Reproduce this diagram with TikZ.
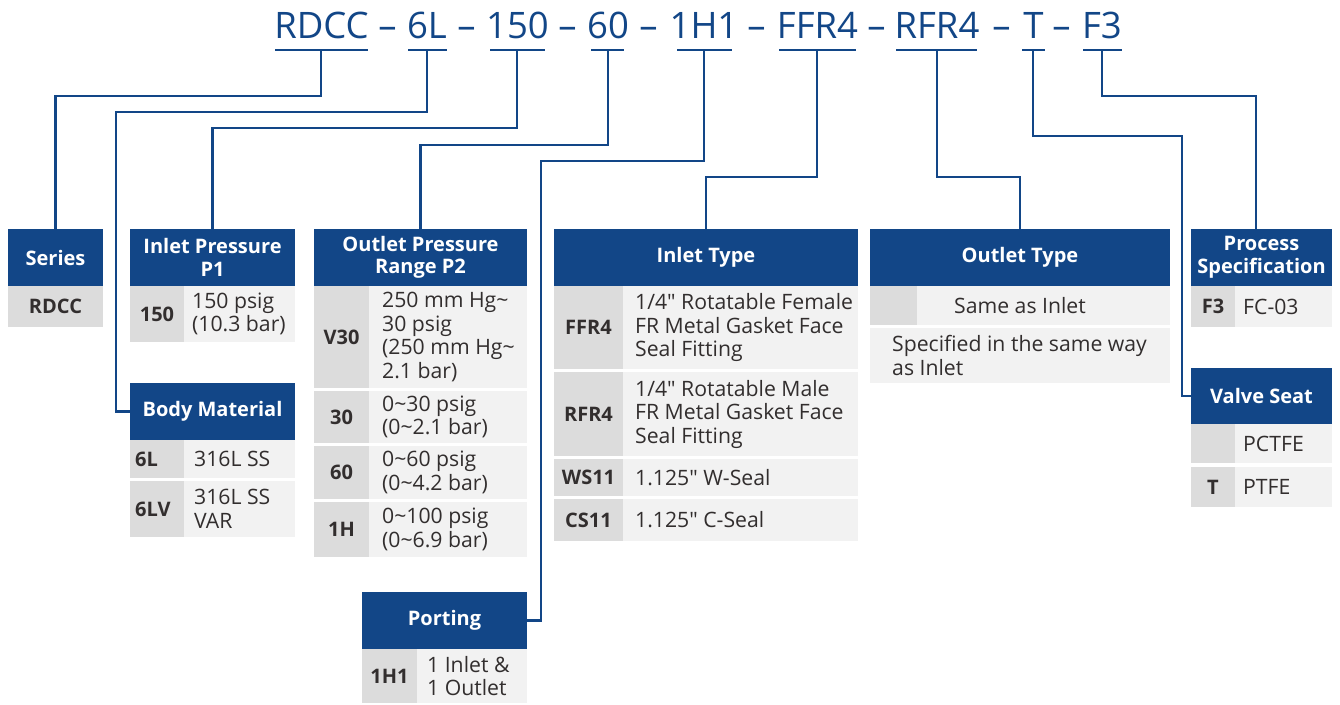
\documentclass[tikz,border=0pt]{standalone}
\usepackage{fontspec}
\setmainfont{Open Sans}[Ligatures=TeXOff]
\definecolor{hblue}{RGB}{18,70,135}
\definecolor{cgray}{RGB}{220,220,220}
\definecolor{dgray}{RGB}{242,242,242}
\definecolor{tdark}{RGB}{50,46,46}
\newcommand\myhdrfont{\bfseries\fontsize{20}{22.5}\selectfont}
\newcommand\mycodefont{\bfseries\fontsize{20}{23.5}\selectfont}
\newcommand\mydescfont{\fontsize{21.2}{23.5}\selectfont}
\newcommand\myttlfont{\fontsize{36.5}{40}\selectfont}
\tikzset{
  conn/.style={draw=hblue, line width=2.4pt},
  uline/.style={draw=hblue, line width=2.4pt},
  hdr/.style={fill=hblue, text=white, font=\myhdrfont, align=center, inner sep=0pt},
  codec/.style={fill=cgray},
  descc/.style={fill=dgray},
  codet/.style={font=\mycodefont, text=tdark, inner sep=0pt},
  desct/.style={font=\mydescfont, text=tdark, align=left, anchor=west, inner sep=0pt},
  ttl/.style={font=\myttlfont, text=hblue, anchor=base, inner sep=0pt},
}
\begin{document}
\begin{tikzpicture}[x=1pt,y=-1pt]
\useasboundingbox[fill=white] (0,0) rectangle (1340,704);
% ---- title ----
\node[ttl] (t1) at (321.5,38) {RDCC};
\node[ttl] (t2) at (427,38) {6L};
\node[ttl] (t3) at (517.5,38) {150};
\node[ttl] (t4) at (608,38) {60};
\node[ttl] (t5) at (704,38) {1H1};
\node[ttl] (t6) at (817.5,38) {FFR4};
\node[ttl] (t7) at (937,38) {RFR4};
\node[ttl] (t8) at (1033.5,38) {T};
\node[ttl] (t9) at (1102,38) {F3};
\foreach \xx/\nm in {387.5/d1,466.5/d2,567.5/d3,648.5/d4,756.5/d5,876.5/d6,1001.5/d7,1061.5/d8}
  \node[ttl] (\nm) at (\xx,38) {–};
% underlines
\draw[uline] (275,50) -- (368,50);
\draw[uline] (408,50) -- (447,50);
\draw[uline] (490,50) -- (545,50);
\draw[uline] (591,50) -- (624,50);
\draw[uline] (677,50) -- (732,50);
\draw[uline] (779,50) -- (856,50);
\draw[uline] (896,50) -- (977,50);
\draw[uline] (1022,50) -- (1045,50);
\draw[uline] (1083,50) -- (1122,50);
\coordinate (u1) at (321,50);
\coordinate (u2) at (427,50);
\coordinate (u3) at (517,50);
\coordinate (u4) at (608,50);
\coordinate (u5) at (704,50);
\coordinate (u6) at (817,50);
\coordinate (u7) at (937,50);
\coordinate (u8) at (1033,50);
\coordinate (u9) at (1102,50);
% ---- headers ----
\node[hdr, minimum width=95pt, minimum height=57pt] (series) at (55.5,257.5) {Series};
\node[hdr, minimum width=165pt, minimum height=57pt] (inp) at (212.5,257.5) {Inlet Pressure\\P1};
\node[hdr, minimum width=165pt, minimum height=57pt] (body) at (212.5,411.5) {Body Material};
\node[hdr, minimum width=213pt, minimum height=57pt] (outp) at (420.5,257.5) {Outlet Pressure\\Range P2};
\node[hdr, minimum width=165pt, minimum height=57pt] (port) at (444.5,620.5) {Porting};
\node[hdr, minimum width=304pt, minimum height=57pt] (intype) at (706,257.5) {Inlet Type};
\node[hdr, minimum width=300pt, minimum height=57pt] (outtype) at (1020,257.5) {Outlet Type};
\node[hdr, minimum width=141pt, minimum height=57pt] (proc) at (1261.5,257.5) {Process\\Specification};
\node[hdr, minimum width=141pt, minimum height=56pt] (valve) at (1261.5,396) {Valve Seat};
% ---- connectors ----
\draw[conn] (u1) |- (55.5,96) -- (series.north);
\draw[conn] (u2) |- (116,112) |- (body.west);
\draw[conn] (u3) |- (212.5,128) -- (inp.north);
\draw[conn] (u4) |- (420.5,145) -- (outp.north);
\draw[conn] (u5) |- (541,161) |- (port.east);
\draw[conn] (u6) |- (706,177) -- (intype.north);
\draw[conn] (u7) |- (1020,177) -- (outtype.north);
\draw[conn] (u8) |- (1182,136) |- (valve.west);
\draw[conn] (u9) |- (1256,96) -- ([xshift=-5.5pt]proc.north);
% ---- Series ----
\fill[codec] (8,286) rectangle (103,327);
\node[codet] (s1c) at (55.5,306.5) {RDCC};
% ---- Inlet pressure ----
\fill[codec] (130,286) rectangle (184,342);
\fill[descc] (184,286) rectangle (295,342);
\node[codet] (p1c) at (157,314) {150};
\node[desct] (p1d) at (192,314) {150 psig\\(10.3 bar)};
% ---- Body material ----
\fill[codec] (130,440) rectangle (184,478);
\fill[descc] (184,440) rectangle (295,478);
\fill[codec] (130,481) rectangle (184,537);
\fill[descc] (184,481) rectangle (295,537);
\node[codet, anchor=west] (b1c) at (135,459) {6L};
\node[desct] (b1d) at (194,459) {316L SS};
\node[codet, anchor=west] (b2c) at (135,509) {6LV};
\node[desct] (b2d) at (194,509) {316L SS\\VAR};
% ---- Outlet pressure ----
\fill[codec] (314,286) rectangle (369,388);
\fill[descc] (369,286) rectangle (527,388);
\fill[codec] (314,391) rectangle (369,443);
\fill[descc] (369,391) rectangle (527,443);
\fill[codec] (314,446) rectangle (369,499);
\fill[descc] (369,446) rectangle (527,499);
\fill[codec] (314,502) rectangle (369,557);
\fill[descc] (369,502) rectangle (527,557);
\node[codet] (o1c) at (341.5,337) {V30};
\node[desct] (o1d) at (382,337) {250 mm Hg\textasciitilde\\30 psig\\(250 mm Hg\textasciitilde\\2.1 bar)};
\node[codet] (o2c) at (341.5,417) {30};
\node[desct] (o2d) at (382,417) {0\textasciitilde30 psig\\(0\textasciitilde2.1 bar)};
\node[codet] (o3c) at (341.5,472.5) {60};
\node[desct] (o3d) at (382,472.5) {0\textasciitilde60 psig\\(0\textasciitilde4.2 bar)};
\node[codet] (o4c) at (341.5,529.5) {1H};
\node[desct] (o4d) at (382,529.5) {0\textasciitilde100 psig\\(0\textasciitilde6.9 bar)};
% ---- Porting ----
\fill[codec] (362,649) rectangle (417,703);
\fill[descc] (417,649) rectangle (527,703);
\node[codet] (pc) at (389.5,676) {1H1};
\node[desct] (pd) at (427,676) {1 Inlet \&\\1 Outlet};
% ---- Inlet type ----
\fill[codec] (554,286) rectangle (623,369);
\fill[descc] (623,286) rectangle (858,369);
\fill[codec] (554,372) rectangle (623,456);
\fill[descc] (623,372) rectangle (858,456);
\fill[codec] (554,459) rectangle (623,496);
\fill[descc] (623,459) rectangle (858,496);
\fill[codec] (554,499) rectangle (623,541);
\fill[descc] (623,499) rectangle (858,541);
\node[codet] (i1c) at (588.5,327.5) {FFR4};
\node[desct] (i1d) at (635,327.5) {1/4" Rotatable Female\\FR Metal Gasket Face\\Seal Fitting};
\node[codet] (i2c) at (588.5,414) {RFR4};
\node[desct] (i2d) at (635,414) {1/4" Rotatable Male\\FR Metal Gasket Face\\Seal Fitting};
\node[codet] (i3c) at (588.5,477.5) {WS11};
\node[desct] (i3d) at (635,477.5) {1.125" W-Seal};
\node[codet] (i4c) at (588.5,520) {CS11};
\node[desct] (i4d) at (635,520) {1.125" C-Seal};
% ---- Outlet type ----
\fill[codec] (870,286) rectangle (917,325);
\fill[descc] (917,286) rectangle (1170,325);
\fill[descc] (870,328) rectangle (1170,383);
\node[desct, anchor=center] (ot1) at (1020,305.5) {Same as Inlet};
\node[desct] (ot2) at (892,355.5) {Specified in the same way\\as Inlet};
% ---- Process spec ----
\fill[codec] (1191,286) rectangle (1235,327);
\fill[descc] (1235,286) rectangle (1332,327);
\node[codet] (f3c) at (1213,306.5) {F3};
\node[desct] (f3d) at (1243,306.5) {FC-03};
% ---- Valve seat ----
\fill[codec] (1191,424) rectangle (1235,463);
\fill[descc] (1235,424) rectangle (1332,463);
\fill[codec] (1191,467) rectangle (1235,507);
\fill[descc] (1235,467) rectangle (1332,507);
\node[desct] (v1d) at (1243,443.5) {PCTFE};
\node[codet] (v2c) at (1213,487) {T};
\node[desct] (v2d) at (1243,487) {PTFE};
\end{tikzpicture}
\end{document}
